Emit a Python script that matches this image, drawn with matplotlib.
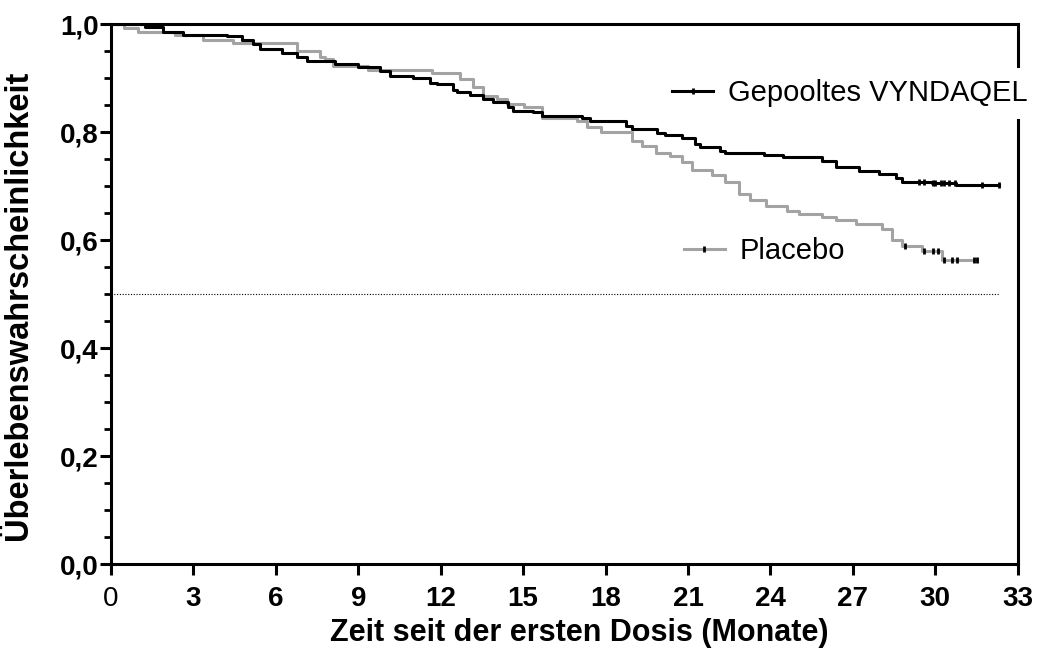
import numpy as np
import matplotlib
matplotlib.use("Agg")
import matplotlib.pyplot as plt
from matplotlib.lines import Line2D
from matplotlib.ticker import MultipleLocator

plt.rcParams['font.family'] = ['Liberation Sans', 'DejaVu Sans']

# Kaplan-Meier step data (month at which level starts, survival level)
vyn_t = [0, 1.24, 1.89, 2.62, 4.22, 4.76, 5.16, 5.42, 6.22, 6.76, 7.13, 8.15, 8.98,
         9.78, 10.15, 10.98, 11.6, 11.85, 12.44, 12.58, 13.05, 13.53, 13.89, 14.44,
         14.62, 15.35, 15.67, 17.16, 17.42, 18.76, 18.95, 19.89, 20.15, 20.8, 21.24,
         21.42, 22.15, 22.33, 23.78, 24.44, 25.89, 26.4, 27.24, 27.96, 28.58, 28.8,
         29.89, 30.76, 32.33]
vyn_s = [1.0, 0.994, 0.986, 0.980, 0.978, 0.971, 0.963, 0.955, 0.946, 0.939, 0.931,
         0.926, 0.920, 0.913, 0.905, 0.900, 0.892, 0.889, 0.878, 0.874, 0.868, 0.861,
         0.856, 0.846, 0.839, 0.837, 0.830, 0.827, 0.820, 0.811, 0.805, 0.798, 0.795,
         0.790, 0.779, 0.773, 0.765, 0.762, 0.757, 0.754, 0.747, 0.735, 0.728, 0.722,
         0.715, 0.707, 0.705, 0.703, 0.703]
vyn_cens = [29.4, 29.6, 29.9, 30.0, 30.2, 30.3, 30.5, 30.7, 31.7, 32.3]

pla_t = [0, 0.47, 0.98, 2.33, 3.35, 4.44, 6.76, 7.6, 7.78, 8.07, 9.35, 11.67, 12.69,
         13.16, 13.53, 14.04, 14.4, 15.05, 15.67, 16.95, 17.31, 17.85, 18.98, 19.31,
         19.85, 20.33, 20.8, 21.13, 21.89, 22.33, 22.87, 23.24, 23.85, 24.62, 25.05,
         25.89, 26.4, 27.13, 28.07, 28.44, 28.8, 29.53, 30.25, 31.53]
pla_s = [1.0, 0.993, 0.986, 0.980, 0.970, 0.965, 0.950, 0.939, 0.935, 0.923, 0.915,
         0.909, 0.898, 0.883, 0.867, 0.861, 0.853, 0.846, 0.826, 0.820, 0.809, 0.800,
         0.783, 0.774, 0.762, 0.756, 0.744, 0.730, 0.720, 0.707, 0.685, 0.675, 0.663,
         0.654, 0.648, 0.642, 0.638, 0.629, 0.620, 0.601, 0.589, 0.580, 0.564, 0.564]
pla_cens = [28.9, 29.6, 29.9, 30.1, 30.3, 30.6, 30.8, 31.4, 31.5]

x_ticks = [0, 3, 6, 9, 12, 15, 18, 21, 24, 27, 30, 33]
y_ticks = [0.0, 0.2, 0.4, 0.6, 0.8, 1.0]
y_ticklabels = ["0,0", "0,2", "0,4", "0,6", "0,8", "1,0"]
median_level = 0.5
median_end = 32.3

BLACK = "#000000"
GREY = "#a3a3a3"


def level_at(times, levels, points):
    # survival level of a step curve at the given times
    return [levels[np.searchsorted(times, p, side="right") - 1] for p in points]


fig = plt.figure(figsize=(10.46, 6.48), dpi=100)
ax = fig.add_axes([0.106, 0.1296, 0.867, 0.833])

ax.step(vyn_t, vyn_s, where="post", color=BLACK, lw=2.2, zorder=4)
ax.step(pla_t, pla_s, where="post", color=GREY, lw=2.2, zorder=3)

# censor marks
ax.plot(vyn_cens, level_at(vyn_t, vyn_s, vyn_cens),
        ls="none", marker="|", ms=5, mew=2, color=BLACK, zorder=5)
ax.plot(pla_cens, level_at(pla_t, pla_s, pla_cens),
        ls="none", marker="|", ms=5, mew=2, color=BLACK, zorder=5)

ax.plot([0, median_end], [median_level, median_level], color=BLACK, lw=0.8,
        ls=(0, (1, 1.5)), zorder=2)

ax.set_xlim(0, 33)
ax.set_ylim(0, 1.0)
ax.set_xticks(x_ticks)
ax.set_xticklabels([str(v) for v in x_ticks])
ax.set_yticks(y_ticks)
ax.set_yticklabels(y_ticklabels)
ax.yaxis.set_minor_locator(MultipleLocator(0.05))

for sp in ax.spines.values():
    sp.set_linewidth(2.2)
ax.tick_params(axis="both", which="major", direction="out", length=8, width=2.2,
               labelsize=20)
ax.tick_params(axis="x", which="major", pad=8)
ax.tick_params(axis="y", which="major", pad=1)
ax.tick_params(axis="y", which="minor", direction="out", length=5, width=2)
for lab in ax.get_xticklabels() + ax.get_yticklabels():
    lab.set_fontweight("bold")
ax.get_xticklabels()[0].set_fontweight("normal")

ax.set_xlabel("Zeit seit der ersten Dosis (Monate)", fontsize=22, fontweight="bold")
ax.xaxis.set_label_coords(0.517, -0.1)
ax.set_ylabel("Überlebenswahrscheinlichkeit", fontsize=23.5, fontweight="bold")
ax.yaxis.set_label_coords(-0.085, 0.48)

# legend-like labels
h1 = Line2D([], [], color=BLACK, lw=2.2, marker="|", ms=5, mew=2)
h2 = Line2D([], [], color=GREY, lw=2.2, marker="|", ms=5, mew=2, mec=BLACK)
leg1 = ax.legend([h1], ["Gepooltes VYNDAQEL"], loc="center left", bbox_to_anchor=(0.606, 0.872),
                 fontsize=21, frameon=True, facecolor="white", edgecolor="none", framealpha=1,
                 numpoints=1, handlelength=1.4, handletextpad=0.5, borderpad=0.4, borderaxespad=0,
                 fancybox=False)
ax.add_artist(leg1)
ax.legend([h2], ["Placebo"], loc="center left", bbox_to_anchor=(0.619, 0.58),
          fontsize=21, frameon=False, numpoints=1, handlelength=1.4, handletextpad=0.5,
          borderpad=0.4, borderaxespad=0)

fig.savefig("out.png", dpi=100)
